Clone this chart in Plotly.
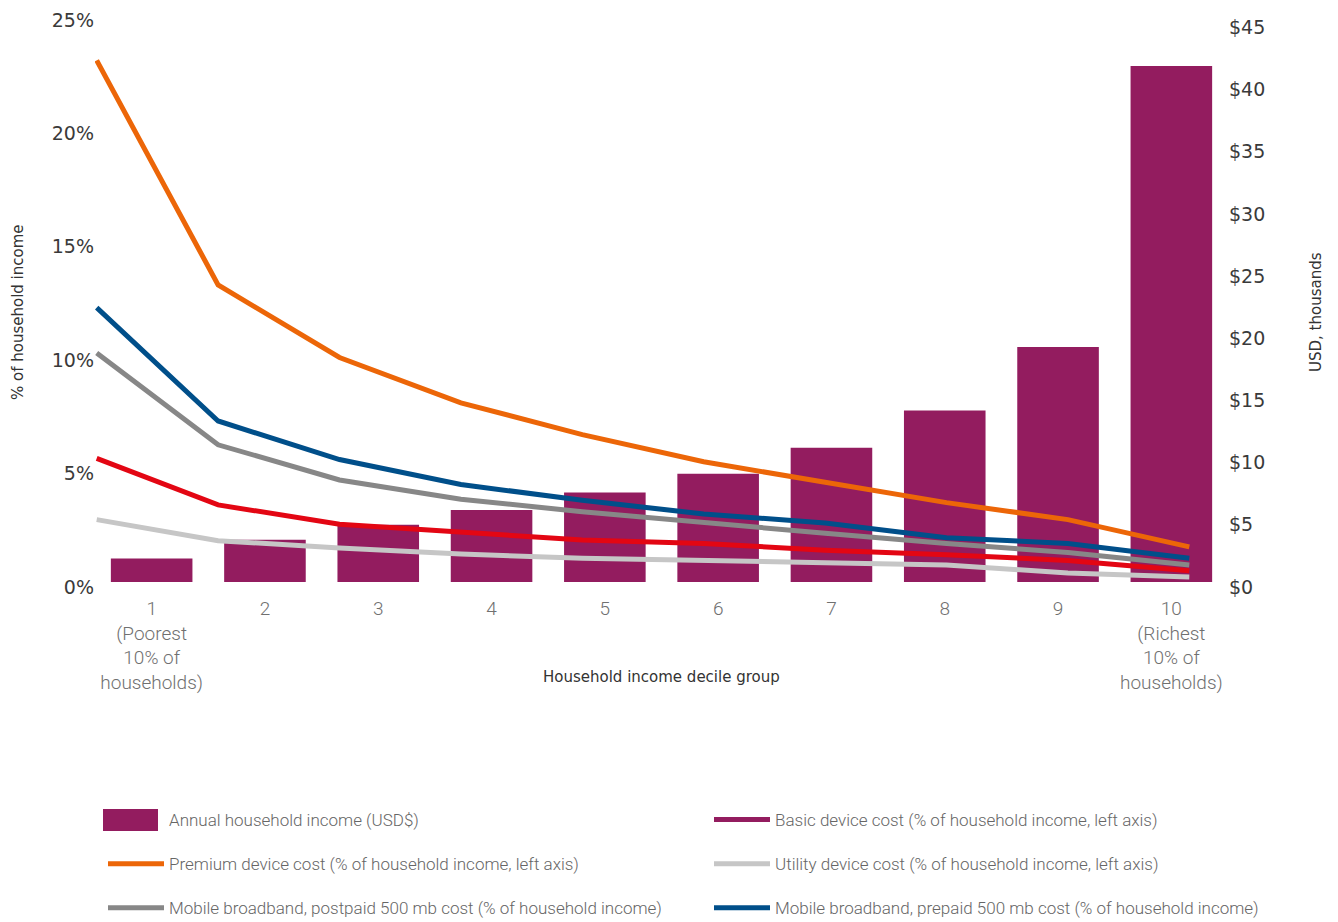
import plotly.graph_objects as go

# ---------------- data ----------------
deciles = [1, 2, 3, 4, 5, 6, 7, 8, 9, 10]
decile_labels = [
    "1<br>(Poorest<br>10% of<br>households)", "2", "3", "4", "5", "6", "7", "8", "9",
    "10<br>(Richest<br>10% of<br>households)",
]
income_k = [1.9, 3.4, 4.6, 5.8, 7.2, 8.7, 10.8, 13.8, 18.9, 41.5]          # USD thousands
premium_pct = [23.0, 13.1, 9.9, 7.9, 6.5, 5.3, 4.4, 3.5, 2.75, 1.55]
prepaid_pct = [12.1, 7.1, 5.4, 4.3, 3.6, 3.0, 2.6, 1.95, 1.7, 1.05]
postpaid_pct = [10.1, 6.05, 4.5, 3.65, 3.1, 2.6, 2.15, 1.7, 1.3, 0.75]
basic_pct = [5.45, 3.4, 2.55, 2.2, 1.85, 1.7, 1.4, 1.2, 0.95, 0.5]
utility_pct = [2.75, 1.82, 1.5, 1.23, 1.05, 0.93, 0.85, 0.75, 0.4, 0.22]

left_ticks = [0, 5, 10, 15, 20, 25]
left_labels = [f"{v}%" for v in left_ticks]
right_ticks = [0, 5, 10, 15, 20, 25, 30, 35, 40, 45]
right_labels = [f"${v}" for v in right_ticks]

# ---------------- style ----------------
PURPLE = "#931C5F"
ORANGE = "#EC6608"
BLUE = "#004F8A"
GRAY = "#878787"
RED = "#E30613"
LIGHT = "#C6C6C6"
NARROW = "Roboto, sans-serif"
GEO = "DejaVu Sans, sans-serif"
LW = 5

W, H = 1338, 922
ML, MR, MT, MB = 87, 118, 7, 348
PW = W - ML - MR
PH = H - MT - MB

NAME_INC = "Annual household income (USD$)"
NAME_PREM = "Premium device cost (% of household income, left axis)"
NAME_POST = "Mobile broadband, postpaid 500 mb cost (% of household income)"
NAME_BASIC = "Basic device cost (% of household income, left axis)"
NAME_UTIL = "Utility device cost (% of household income, left axis)"
NAME_PRE = "Mobile broadband, prepaid 500 mb cost (% of household income)"

fig = go.Figure()

fig.add_trace(go.Bar(
    x=deciles, y=income_k, name=NAME_INC,
    marker=dict(color=PURPLE, line=dict(width=0)),
    xaxis="x", yaxis="y", legendgroup="a", showlegend=False,
))

def line(vals, color, name, legend, group, show=True):
    return go.Scatter(
        x=deciles, y=vals, mode="lines", name=name,
        line=dict(color=color, width=LW),
        xaxis="x2", yaxis="y2", legend=legend, legendgroup=group, showlegend=show,
    )

fig.add_trace(line(utility_pct, LIGHT, NAME_UTIL, "legend2", "e"))
fig.add_trace(line(basic_pct, RED, NAME_BASIC, "legend2", "d", show=False))
fig.add_trace(line(postpaid_pct, GRAY, NAME_POST, "legend", "c"))
fig.add_trace(line(prepaid_pct, BLUE, NAME_PRE, "legend2", "f"))
fig.add_trace(line(premium_pct, ORANGE, NAME_PREM, "legend", "b"))

# key-only entries: income (swatch drawn as a block) and basic device (purple in the key)
fig.add_trace(go.Scatter(
    x=[None], y=[None], mode="lines", name=NAME_INC,
    line=dict(color="rgba(0,0,0,0)", width=LW), xaxis="x2", yaxis="y2",
    legend="legend", legendgroup="a",
))
fig.add_trace(go.Scatter(
    x=[None], y=[None], mode="lines", name=NAME_BASIC,
    line=dict(color=PURPLE, width=LW), xaxis="x2", yaxis="y2",
    legend="legend2", legendgroup="d",
))

ranks = {NAME_INC: 1, NAME_PREM: 2, NAME_POST: 3, NAME_BASIC: 1, NAME_UTIL: 2, NAME_PRE: 3}
for t in fig.data:
    t.legendrank = ranks[t.name]

# line x-scale (lines sit on their own, slightly wider spacing than the bars)
p1, step = 96.7 - 8, 121.4   # figure pixel of decile 1 and pixel per decile
x2_lo = 1 + (ML - p1) / step
x2_hi = 1 + (ML + PW - p1) / step

legend_common = dict(
    orientation="v", traceorder="grouped", tracegroupgap=19,
    font=dict(family=NARROW, size=17, color="#666666", weight=300),
    itemwidth=56, bgcolor="rgba(0,0,0,0)",
    xref="container", yref="container",
    yanchor="top", xanchor="left",
)
LEG_TOP = 794
LEG1_X, LEG2_X = 95, 701

# swatch block for the income entry of the key (figure pixels -> paper)
sw_x0, sw_x1, sw_y0, sw_y1 = 95, 150, 801, 823
def px(fx):
    return (fx - ML) / PW
def py(fy):
    return (MT + PH - fy) / PH

yfont = dict(family=GEO, size=19, color="#3a3a3a")

fig.update_layout(
    width=W, height=H,
    margin=dict(l=ML, r=MR, t=MT, b=MB, autoexpand=False),
    paper_bgcolor="white", plot_bgcolor="white",
    bargap=0.28,
    showlegend=True,
    xaxis=dict(
        range=[0.5, 10.5], tickmode="array", tickvals=deciles, ticktext=decile_labels,
        showgrid=False, zeroline=False, showline=False, ticks="", automargin=False,
        ticklabelstandoff=13,
        tickfont=dict(family=NARROW, size=19, color="#707070", weight=300),
    ),
    xaxis2=dict(overlaying="x", range=[x2_lo, x2_hi], visible=False),
    yaxis=dict(
        side="right", range=[0, 45.6], tickmode="array", tickvals=right_ticks,
        ticktext=right_labels, showgrid=False, zeroline=False, showline=False,
        ticks="", automargin=False, ticklabelshift=5, ticklabeloverflow="allow",
        tickfont=yfont,
    ),
    yaxis2=dict(
        overlaying="y", side="left", range=[0, 25], tickmode="array", tickvals=left_ticks,
        ticktext=left_labels, showgrid=False, zeroline=False, showline=False,
        ticks="", automargin=False, ticklabelshift=5, ticklabeloverflow="allow",
        tickfont=yfont,
    ),
    legend=dict(x=LEG1_X / W, y=(H - LEG_TOP) / H, **legend_common),
    legend2=dict(x=LEG2_X / W, y=(H - LEG_TOP) / H, **legend_common),
    shapes=[dict(type="rect", xref="paper", yref="paper",
                 x0=px(sw_x0), x1=px(sw_x1), y0=py(sw_y1), y1=py(sw_y0),
                 fillcolor=PURPLE, line=dict(width=0), layer="above")],
    annotations=[
        dict(text="Household income decile group", xref="paper", yref="paper",
             x=0.5, y=py(669), xanchor="center", yanchor="middle", showarrow=False,
             font=dict(family=GEO, size=15, color="#333333")),
        dict(text="% of household income", xref="paper", yref="paper",
             x=px(10), y=py(304), xanchor="center", yanchor="middle",
             showarrow=False, textangle=-90,
             font=dict(family=GEO, size=15, color="#333333")),
        dict(text="USD, thousands", xref="paper", yref="paper",
             x=px(1308), y=py(304), xanchor="center", yanchor="middle",
             showarrow=False, textangle=-90,
             font=dict(family=GEO, size=15, color="#333333")),
    ],
)

fig.write_html("out.html")
